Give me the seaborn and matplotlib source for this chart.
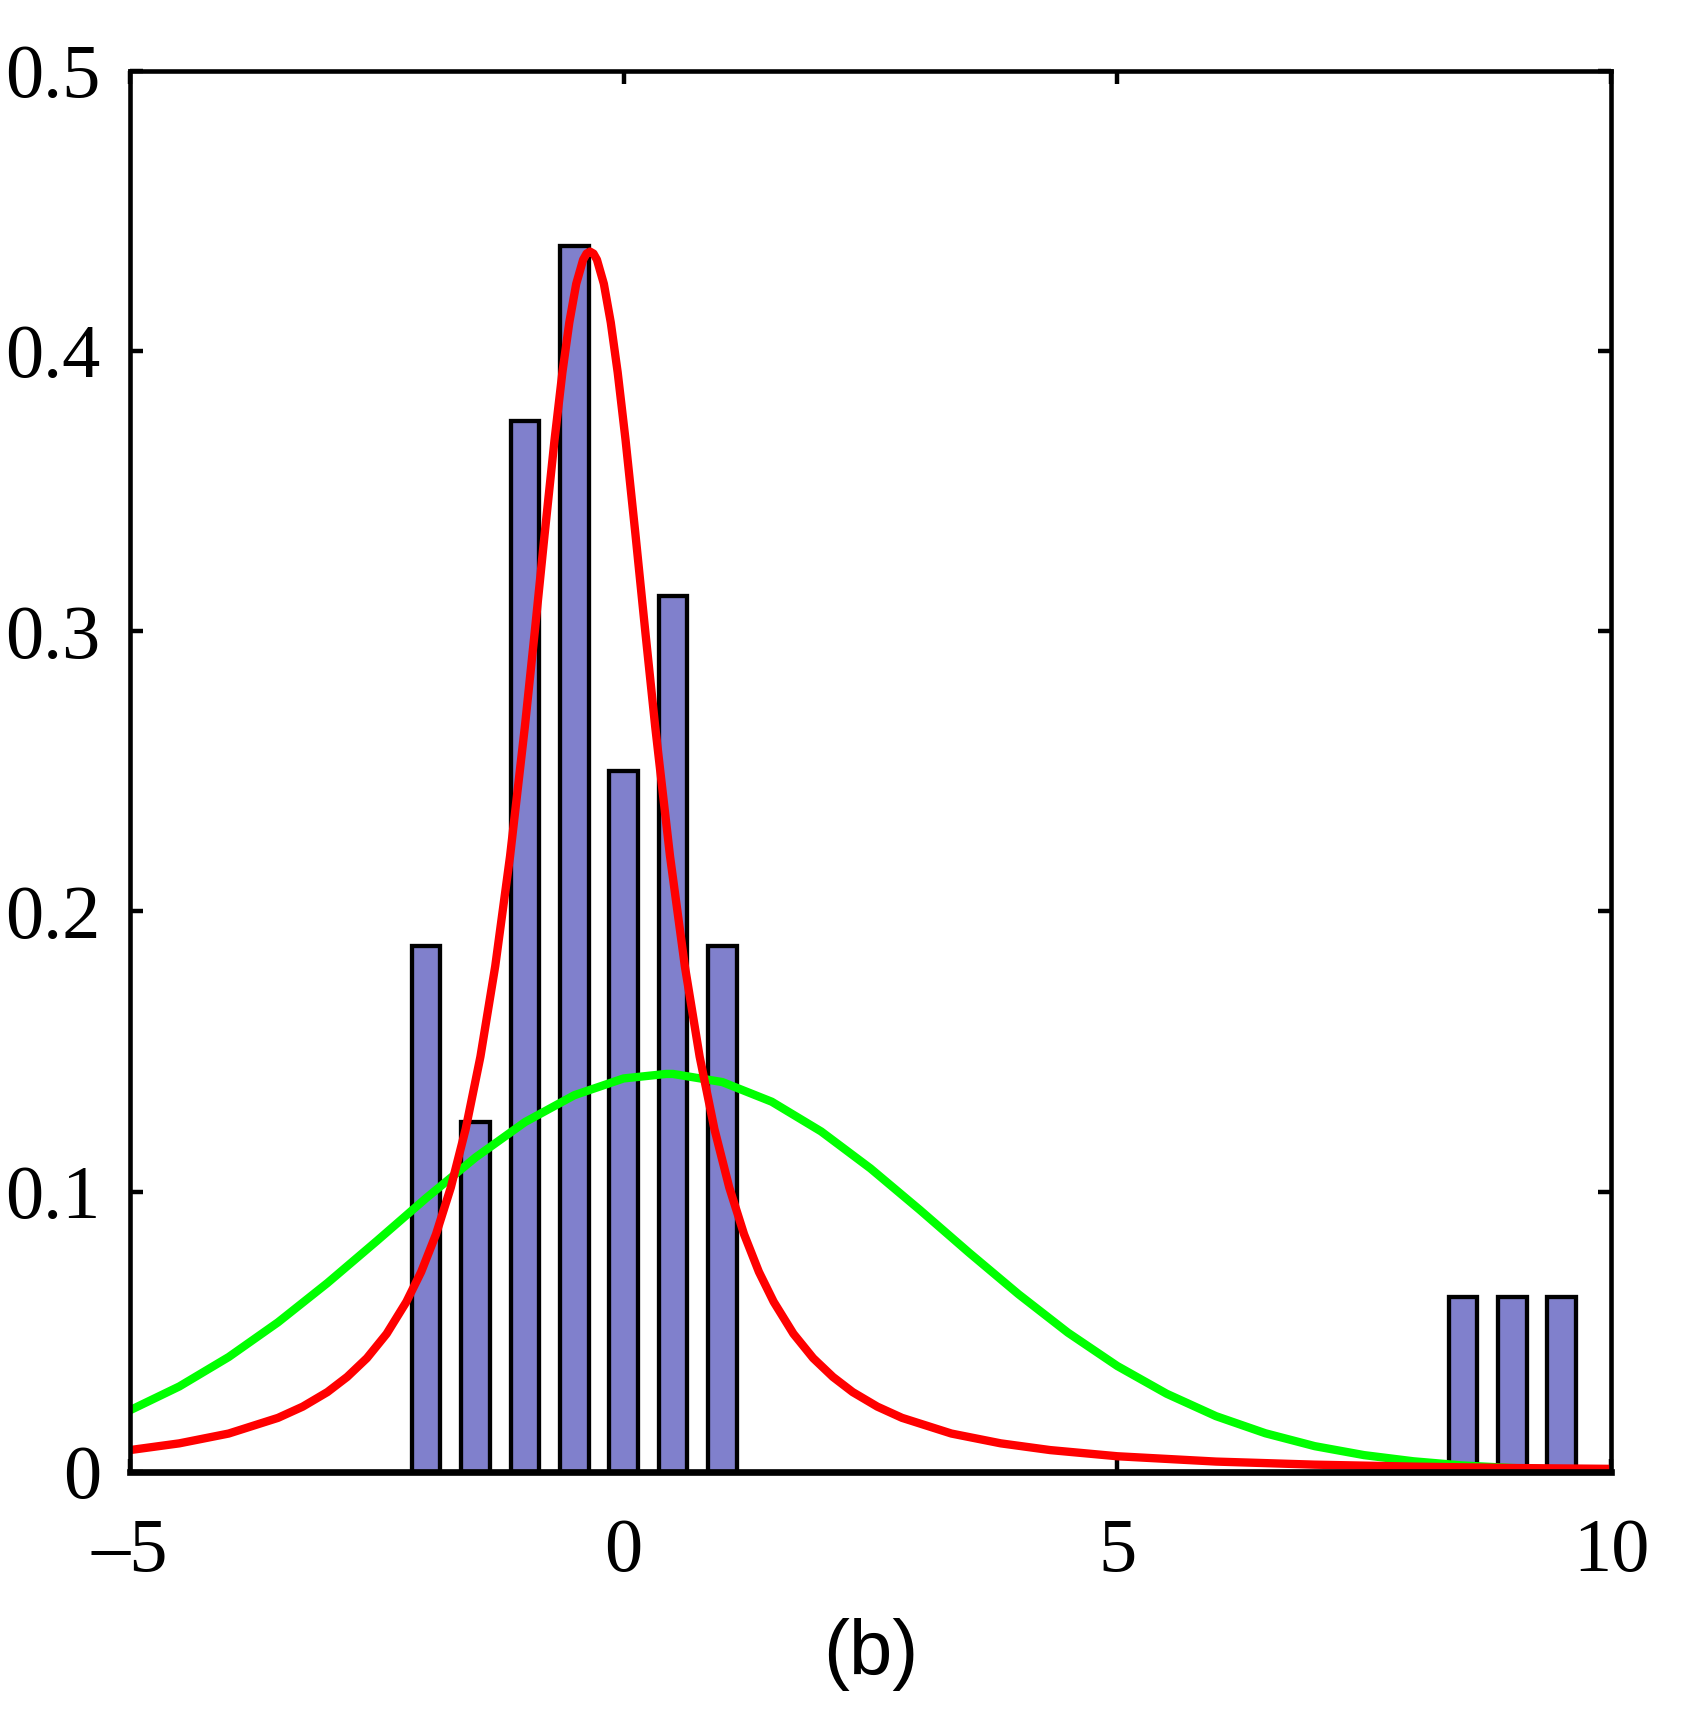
import matplotlib
matplotlib.use("Agg")
import matplotlib.pyplot as plt
import seaborn as sns

# ---- data ----
bin_centers = [-2.0, -1.5, -1.0, -0.5, 0.0, 0.5, 1.0, 8.5, 9.0, 9.5]
bin_density = [0.1875, 0.125, 0.375, 0.4375, 0.25, 0.3125, 0.1875, 0.0625, 0.0625, 0.0625]

# green curve (broad fit)
gauss_x = [-5.0, -4.5, -4.0, -3.5, -3.0, -2.5, -2.0, -1.5, -1.0, -0.5, 0.0, 0.43,
           0.5, 1.0, 1.5, 2.0, 2.5, 3.0, 3.5, 4.0, 4.5, 5.0, 5.5, 6.0, 6.5, 7.0,
           7.5, 8.0, 8.5, 9.0, 9.5, 10.0]
gauss_y = [0.0220, 0.0305, 0.0410, 0.0534, 0.0674, 0.0824, 0.0977, 0.1122, 0.1248,
           0.1344, 0.1404, 0.1420, 0.1420, 0.1391, 0.1321, 0.1215, 0.1083, 0.0935,
           0.0782, 0.0634, 0.0497, 0.0378, 0.0279, 0.0199, 0.0138, 0.0092, 0.0060,
           0.0038, 0.0023, 0.0014, 0.0008, 0.0004]

# red curve (heavy-tailed fit)
t_x = [-5.00, -4.50, -4.00, -3.50, -3.25, -3.00, -2.80, -2.60, -2.40, -2.20, -2.05,
       -1.90, -1.75, -1.60, -1.45, -1.30, -1.15, -1.00, -0.90, -0.80, -0.70, -0.62,
       -0.55, -0.48, -0.41, -0.375, -0.34, -0.305, -0.27, -0.20, -0.13, -0.06, 0.02,
       0.12, 0.22, 0.32, 0.47, 0.62, 0.77, 0.92, 1.07, 1.22, 1.37, 1.52, 1.72, 1.92,
       2.12, 2.32, 2.57, 2.82, 3.32, 3.82, 4.32, 5.00, 6.00, 7.00, 8.00, 9.00, 10.0]
t_y = [0.0078, 0.0102, 0.0137, 0.0193, 0.0233, 0.0285, 0.0339, 0.0406, 0.0493, 0.0607,
       0.0714, 0.0848, 0.1015, 0.1223, 0.1482, 0.1805, 0.2197, 0.2659, 0.2997, 0.3345,
       0.3681, 0.3923, 0.4101, 0.4239, 0.4325, 0.4347, 0.4354, 0.4347, 0.4325, 0.4239,
       0.4101, 0.3923, 0.3681, 0.3345, 0.2997, 0.2659, 0.2197, 0.1805, 0.1482, 0.1223,
       0.1015, 0.0848, 0.0714, 0.0607, 0.0493, 0.0406, 0.0339, 0.0285, 0.0233, 0.0193,
       0.0137, 0.0102, 0.0078, 0.0056, 0.0037, 0.0026, 0.0019, 0.0014, 0.0011]

x_ticks = [-5, 0, 5, 10]
x_tick_labels = ["\u20135", "0", "5", "10"]
y_ticks = [0, 0.1, 0.2, 0.3, 0.4, 0.5]
y_tick_labels = ["0", "0.1", "0.2", "0.3", "0.4", "0.5"]
x_label = "(b)"

# ---- style ----
sns.set_style("ticks")
plt.rcParams["font.family"] = ["Liberation Serif", "DejaVu Serif"]
plt.rcParams["text.color"] = "black"
plt.rcParams["axes.labelcolor"] = "black"
plt.rcParams["xtick.color"] = "black"
plt.rcParams["ytick.color"] = "black"
plt.rcParams["axes.edgecolor"] = "black"

fig = plt.figure(figsize=(16.83, 17.25), dpi=100)
ax = fig.add_axes([0.0772, 0.1467, 0.8800, 0.8124])

sns.barplot(x=bin_centers, y=bin_density, native_scale=True, width=0.58,
            color="#8080CC", saturation=1, edgecolor="black", linewidth=3.1,
            ax=ax, zorder=2)
sns.lineplot(x=gauss_x, y=gauss_y, color="#00FF00", linewidth=6.0, ax=ax,
             zorder=3, sort=False)
sns.lineplot(x=t_x, y=t_y, color="#FF0000", linewidth=6.0, ax=ax,
             zorder=4, sort=False)

ax.set_xlim(-5, 10)
ax.set_ylim(0, 0.5)
ax.set_xticks(x_ticks)
ax.set_xticklabels(x_tick_labels)
ax.set_yticks(y_ticks)
ax.set_yticklabels(y_tick_labels)

for side in ["left", "right", "top", "bottom"]:
    ax.spines[side].set_visible(True)
    ax.spines[side].set_linewidth(3.3)
    ax.spines[side].set_color("black")
    ax.spines[side].set_zorder(5)
ax.spines["bottom"].set_linewidth(4.8)

ax.tick_params(axis="both", which="major", direction="in", length=9.5, width=3.2,
               top=True, right=True, labelsize=55, color="black", labelcolor="black")
ax.tick_params(axis="x", pad=33)
ax.tick_params(axis="y", pad=21)
for lab in ax.get_xticklabels() + ax.get_yticklabels():
    lab.set_family(["Liberation Serif", "DejaVu Serif"])

ax.set_xlabel(x_label, fontsize=56, family=["Liberation Sans", "DejaVu Sans"],
              color="black")
ax.xaxis.set_label_coords(0.5, -0.13)
ax.xaxis.label.set_verticalalignment("center")
ax.set_ylabel("")

fig.savefig("out.png", dpi=100)
